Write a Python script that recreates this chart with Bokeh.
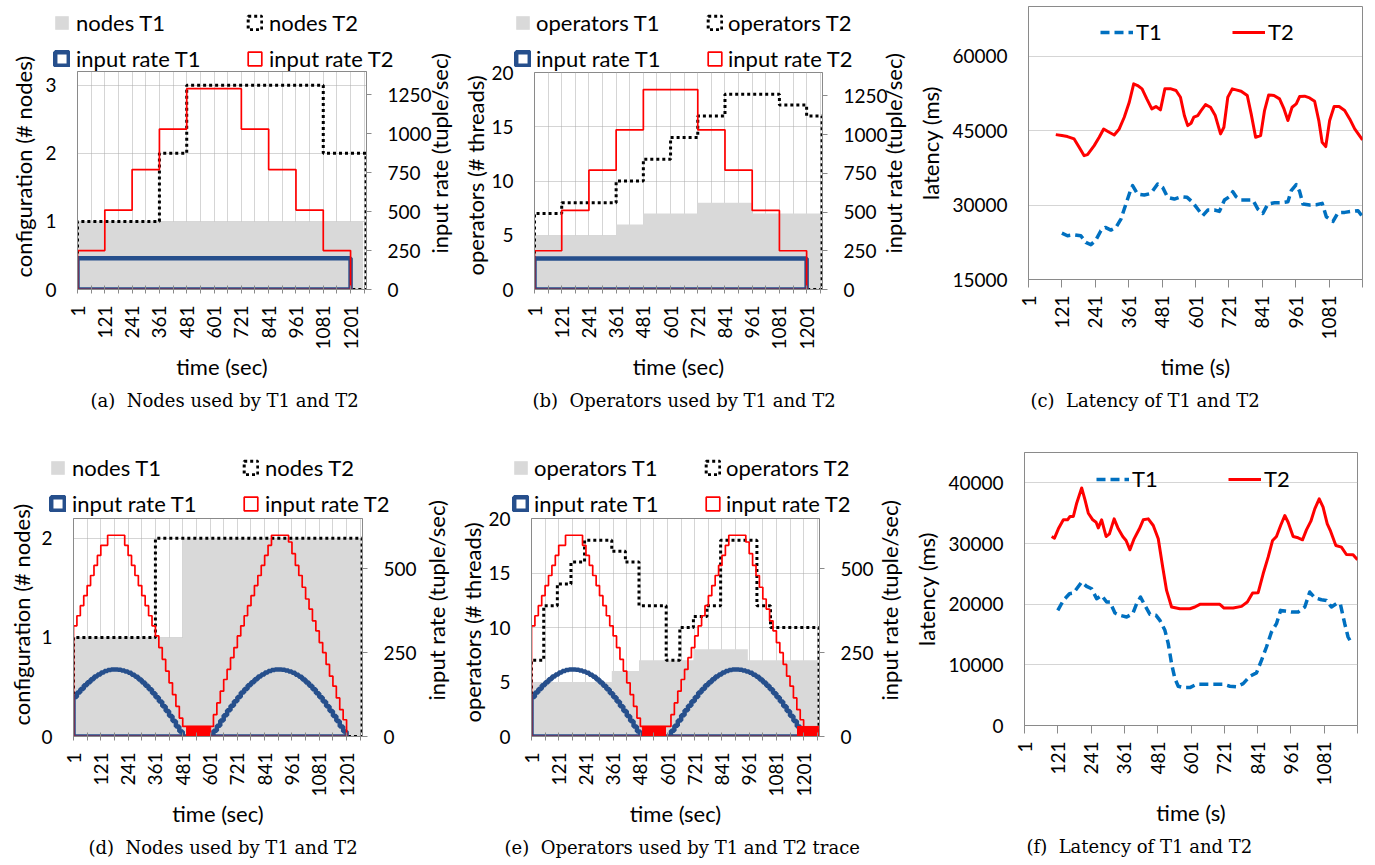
import math
from bokeh.plotting import figure
from bokeh.models import Range1d, LinearAxis, FixedTicker, Legend, LegendItem, Title
from bokeh.embed import file_html
from bokeh.resources import INLINE

# ---------------- data ----------------
X_END_CFG = 1271          # last category of the configuration charts (sec)
X_END_LAT = 1201          # last category of the latency charts (sec)

# step series: start time of each step, value of each step, time where the series ends
a_nodes_t1_start = [1]
a_nodes_t1_val = [1]
a_nodes_t1_end = 1256
a_nodes_t2_start = [1, 361, 481, 1081]
a_nodes_t2_val = [1, 2, 3, 2]
a_nodes_t2_end = 1269

rate_t1_start = [1]
rate_t1_val = [200]
rate_t1_end = 1201
rate_t2_start = [1, 121, 241, 361, 481, 721, 841, 961, 1081]
rate_t2_val = [250, 510, 770, 1030, 1290, 1030, 770, 510, 250]
rate_t2_end = 1201

b_ops_t1_start = [1, 361, 481, 721, 961]
b_ops_t1_val = [5, 6, 7, 8, 7]
b_ops_t1_end = 1266
b_ops_t2_start = [1, 121, 361, 481, 601, 721, 841, 1081, 1201]
b_ops_t2_val = [7, 8, 10, 12, 14, 16, 18, 17, 16]
b_ops_t2_end = 1269

d_nodes_t1_start = [1, 481]
d_nodes_t1_val = [1, 2]
d_nodes_t1_end = 1266
d_nodes_t2_start = [1, 361]
d_nodes_t2_val = [1, 2]
d_nodes_t2_end = 1269

e_ops_t1_start = [1, 355, 475, 715, 955]
e_ops_t1_val = [5, 6, 7, 8, 7]
e_ops_t1_end = 1266
e_ops_t2_start = [1, 55, 115, 175, 235, 355, 415, 475, 595, 655, 715, 775, 835, 995, 1055]
e_ops_t2_val = [7, 12, 14, 16, 18, 17, 16, 12, 7, 10, 11, 12, 18, 12, 10]
e_ops_t2_end = 1269

# wave input rates (every 15 s), read from (d)/(e)
wave_time = list(range(1, 1202, 15))
wave_rate_t1 = [118, 131, 142, 153, 162, 171, 179, 185, 191, 195, 198, 200, 200, 199, 197, 194,
                190, 184, 178, 170, 161, 151, 141, 129, 117, 104, 90, 76, 61, 46, 30, 15,
                0, 0, 0, 0, 0, 0, 0, 0, 0, 17, 32, 48, 63, 78, 92, 105,
                118, 131, 142, 153, 162, 171, 179, 185, 191, 195, 198, 200, 200, 199, 197, 194,
                190, 184, 178, 170, 161, 151, 141, 129, 117, 104, 90, 76, 61, 46, 30, 15, 0]
wave_rate_t2 = [330, 360, 390, 420, 450, 480, 510, 540, 570, 570, 600, 600, 600, 600, 600, 570,
                540, 510, 480, 450, 420, 390, 360, 330, 300, 265, 230, 195, 160, 125, 90, 55,
                30, 30, 30, 30, 30, 30, 30, 30, 30, 65, 100, 135, 170, 200, 235, 265,
                300, 330, 360, 390, 420, 450, 480, 510, 540, 570, 600, 600, 600, 600, 600, 580,
                545, 510, 480, 445, 410, 380, 345, 315, 280, 250, 215, 180, 150, 115, 80, 50, 0]
wave_end = 1201
d_burst_left = [498]
d_burst_right = [604]
d_burst_top = [30]
e_burst_left = [490, 1174]
e_burst_right = [592, 1268]
e_burst_top = [30, 30]

# (c) latency
c_t1_time = [121, 141, 165, 189, 207, 225, 243, 261, 277, 297, 315, 333, 351, 367, 375, 393, 417, 441, 465, 483,
             501, 525, 549, 571, 591, 609, 627, 645, 669, 687, 705, 723, 735, 747, 765, 789, 807, 825, 843, 861,
             885, 909, 933, 945, 963, 975, 987, 1011, 1035, 1056, 1071, 1095, 1113, 1137, 1161, 1185, 1201]
c_t1_lat = [24350, 23810, 24010, 23810, 22470, 22000, 22940, 24820, 25490, 24950, 25490, 27170, 30200, 32890,
            33900, 32220, 32020, 32350, 34240, 33560, 31550, 31210, 31680, 31550, 30540, 29190, 27850, 28990,
            28990, 28720, 31010, 31680, 32690, 31680, 31010, 31010, 31010, 29190, 28320, 30200, 30470, 30470,
            30670, 32890, 34100, 32760, 30200, 30000, 30070, 30340, 27650, 26700, 28450, 28520, 28720, 28860, 27650]
c_t2_time = [99, 121, 141, 165, 183, 201, 213, 237, 255, 271, 291, 309, 327, 345, 363, 379, 393, 409, 426, 444,
             459, 475, 491, 513, 531, 547, 561, 573, 585, 595, 609, 621, 637, 655, 672, 691, 703, 717, 733, 747,
             765, 787, 801, 817, 835, 849, 864, 883, 903, 919, 933, 948, 963, 975, 993, 1011, 1029, 1044, 1056,
             1069, 1083, 1099, 1117, 1137, 1155, 1173, 1201]
c_t2_lat = [44190, 43990, 43790, 43320, 41640, 39950, 40150, 41970, 43650, 45330, 44660, 44120, 45330, 47690,
            50710, 54410, 54080, 53410, 51390, 49370, 49840, 49170, 53410, 53410, 53070, 51720, 48030, 46000,
            46480, 47690, 48030, 49030, 50240, 49700, 48030, 44330, 45670, 51720, 53410, 53200, 52940, 52060,
            48360, 43650, 43990, 49030, 52190, 52060, 51390, 49370, 47020, 49700, 50380, 51860, 51930, 51590,
            50920, 47020, 42650, 41770, 47020, 49840, 49840, 49030, 47350, 45330, 43110]

# (f) latency
f_t1_time = [121, 141, 163, 177, 189, 207, 225, 243, 261, 279, 297, 309, 327, 345, 369, 391, 405, 419, 435, 453,
             475, 489, 507, 519, 531, 543, 555, 573, 597, 621, 645, 681, 717, 741, 765, 789, 813, 837, 855, 873,
             891, 909, 924, 939, 963, 987, 1011, 1029, 1047, 1071, 1089, 1107, 1125, 1139, 1155, 1167, 1179]
f_t1_lat = [18980, 20620, 21720, 21830, 22540, 23640, 22930, 22540, 20900, 21450, 20350, 20350, 18540, 18160,
            17880, 18430, 20080, 21170, 19800, 18320, 18160, 17330, 15690, 13490, 10200, 7730, 6470, 6250,
            6250, 6800, 6800, 6800, 6800, 6470, 6360, 6910, 8120, 8670, 10750, 12940, 15410, 16780, 18980,
            18870, 18700, 18700, 19530, 22000, 21060, 20730, 20620, 19530, 20080, 20080, 16780, 14590, 13600]
f_t2_time = [99, 109, 123, 141, 156, 165, 177, 189, 207, 219, 231, 247, 259, 267, 279, 295, 307, 324, 339, 355,
             367, 381, 396, 415, 429, 447, 465, 483, 499, 513, 531, 561, 597, 615, 633, 669, 705, 720, 753, 783,
             804, 823, 843, 861, 879, 895, 909, 924, 939, 951, 969, 987, 1003, 1017, 1033, 1047, 1063, 1077,
             1092, 1104, 1123, 1143, 1161, 1185, 1201]
f_t2_lat = [31160, 30880, 32420, 33900, 33900, 34450, 34450, 36640, 39160, 37190, 34990, 33900, 33510, 32580,
            33900, 31160, 31590, 34060, 32420, 31160, 30500, 28960, 30770, 32420, 33900, 34060, 32970, 30770,
            26110, 22270, 19530, 19250, 19250, 19530, 19970, 19970, 19970, 19360, 19360, 19640, 20350, 21830,
            21890, 25010, 27750, 30500, 31160, 32970, 34610, 33510, 31160, 30940, 30610, 32250, 33680, 35710,
            37350, 35980, 33240, 32030, 29670, 29400, 28190, 28140, 27320]

time_ticks = list(range(1, 1202, 120))
time_minor = list(range(61, 1262, 120))

# ---------------- styling ----------------
FONT = "Lato"
SERIF = "DejaVu Serif"
GRID = "#ABABAB"
FRAME = "#8A8A8A"
GRAY = "#D9D9D9"
BLUE = "#264F8C"
RED = "#FF0000"
LBLUE = "#0070C0"
TICK_FS = "19px"
TITLE_FS = "22px"
CAP_FS = "18px"
RATE_TITLE = "input rate (tuple/sec)"

STYLE_GRAY = dict(fill_color=GRAY, line_color=None)
STYLE_DOT = dict(fill_color=None, line_color="black", line_width=3, line_dash="3 3")
STYLE_BLUE = dict(fill_color=None, line_color=BLUE, line_width=4.5)
STYLE_RED = dict(fill_color=None, line_color=RED, line_width=1.7)


def step_outline(starts, vals, end):
    xs, ys = [starts[0]], [0]
    for i, v in enumerate(vals):
        x1 = starts[i + 1] if i + 1 < len(starts) else end
        xs += [starts[i], x1]
        ys += [v, v]
    xs.append(end)
    ys.append(0)
    return xs, ys


def style_axis(ax):
    ax.axis_line_color = FRAME
    ax.major_tick_line_color = FRAME
    ax.minor_tick_line_color = FRAME
    ax.major_label_text_font = FONT
    ax.major_label_text_font_size = TICK_FS
    ax.major_label_text_color = "black"
    ax.axis_label_text_font = FONT
    ax.axis_label_text_font_size = TITLE_FS
    ax.axis_label_text_font_style = "normal"
    ax.axis_label_text_color = "black"


def add_title(p, text, side, offset, standoff, font, size):
    t = Title(text=text, align="left", offset=offset, text_font=font, text_font_size=size,
              text_font_style="normal", text_color="black")
    try:
        t.standoff = standoff
    except Exception:
        pass
    p.add_layout(t, side)


def place(p, x0, y0):
    p.styles = {"position": "absolute", "left": "%dpx" % x0, "top": "%dpx" % y0}


def base(x0, y0, bl, bt, fw, fh, xr, yr, br=4):
    p = figure(frame_width=fw, frame_height=fh, title=None, output_backend="svg", toolbar_location=None,
               x_range=xr, y_range=yr, min_border_left=bl, min_border_top=bt,
               min_border_right=br, min_border_bottom=4)
    p.outline_line_color = FRAME
    p.outline_line_width = 1
    p.background_fill_color = "white"
    p.border_fill_color = None
    place(p, x0, y0)
    return p


def config_panel(x0, y0, bl, bt, fw, fh, ymax, yticks, ylabel, ylab_off, ylab_standoff, rmax, rticks,
                 area1, area2, rate1, rate2, bursts, caption, cap_off, cap_standoff):
    p = base(x0, y0, bl, bt, fw, fh, Range1d(1, X_END_CFG), Range1d(0, ymax), br=90)
    p.extra_y_ranges = {"rate": Range1d(0, rmax)}

    xs, ys = step_outline(*area1)
    p.patch(xs, ys, **STYLE_GRAY)
    xs, ys = step_outline(*area2)
    p.patch(xs, ys, **STYLE_DOT)
    xs, ys = step_outline(*rate1)
    p.patch(xs, ys, y_range_name="rate", **STYLE_BLUE)
    if bursts is not None:
        p.quad(left=bursts[0], right=bursts[1], bottom=[0] * len(bursts[0]), top=bursts[2],
               fill_color=RED, line_color=RED, y_range_name="rate")
    xs, ys = step_outline(*rate2)
    p.patch(xs, ys, y_range_name="rate", **STYLE_RED)

    xa = p.xaxis[0]
    style_axis(xa)
    xa.ticker = FixedTicker(ticks=time_ticks, minor_ticks=time_minor)
    xa.major_label_orientation = math.pi / 2
    xa.major_tick_in = 4
    xa.major_tick_out = 4
    xa.minor_tick_in = 4
    xa.minor_tick_out = 4
    xa.major_label_standoff = 12
    xa.axis_label = "time (sec)"
    xa.axis_label_standoff = 0

    ya = p.yaxis[0]
    style_axis(ya)
    ya.ticker = FixedTicker(ticks=yticks)
    ya.major_tick_in = 0
    ya.major_tick_out = 0
    ya.minor_tick_out = 0
    ya.minor_tick_in = 0
    ya.major_label_standoff = 21
    # left title placed like the original (not centred on the plot box)
    add_title(p, ylabel, "left", ylab_off, ylab_standoff, FONT, TITLE_FS)

    ra = LinearAxis(y_range_name="rate", ticker=FixedTicker(ticks=rticks))
    style_axis(ra)
    ra.major_tick_in = 0
    ra.major_tick_out = 5
    ra.minor_tick_in = 0
    ra.minor_tick_out = 0
    ra.major_label_standoff = 16
    p.add_layout(ra, "right")

    p.xgrid.grid_line_color = GRID
    p.xgrid.grid_line_dash = "1 1"
    p.xgrid.minor_grid_line_color = GRID
    p.xgrid.minor_grid_line_dash = "1 1"
    p.ygrid.grid_line_color = GRID
    p.ygrid.grid_line_dash = "1 1"

    add_title(p, caption, "below", cap_off, cap_standoff, SERIF, CAP_FS)
    return p


def legend_overlay(x0, y0, fw, fh, names, leg_x, leg_y, leg_standoff):
    # a transparent strip above a chart that only carries its two-row legend
    q = figure(frame_width=fw, frame_height=fh, title=None, output_backend="svg", toolbar_location=None,
               x_range=Range1d(0, 1), y_range=Range1d(0, 1), x_axis_type=None, y_axis_type=None,
               min_border_left=0, min_border_right=0, min_border_top=0, min_border_bottom=0)
    q.outline_line_color = None
    q.background_fill_color = None
    q.border_fill_color = None
    q.grid.visible = False
    place(q, x0, y0)
    off_x, off_y = [-3, -2, -2], [-3, -3, -2]     # outside the strip: only the legend swatches show
    r1 = q.patch(off_x, off_y, **STYLE_GRAY)
    r2 = q.patch(off_x, off_y, **STYLE_DOT)
    r3 = q.patch(off_x, off_y, **STYLE_BLUE)
    r4 = q.patch(off_x, off_y, **STYLE_RED)
    lg = Legend(items=[LegendItem(label=names[0], renderers=[r1]),
                       LegendItem(label=names[1], renderers=[r2]),
                       LegendItem(label=names[2], renderers=[r3]),
                       LegendItem(label=names[3], renderers=[r4])],
                orientation="horizontal", ncols=2, location=(leg_x, leg_y),
                glyph_width=17, glyph_height=17, label_standoff=leg_standoff,
                label_width=161, label_height=25, spacing=9, padding=0, margin=0,
                background_fill_alpha=0, border_line_alpha=0,
                label_text_font=FONT, label_text_font_size=TITLE_FS, label_text_color="black")
    q.add_layout(lg, "center")
    return q


def latency_panel(x0, y0, bl, bt, fw, fh, ymin, ymax, yticks, t1, t2, leg_x, leg_y, caption, cap_off,
                  cap_standoff, ytitle_standoff):
    p = base(x0, y0, bl, bt, fw, fh, Range1d(1, X_END_LAT), Range1d(ymin, ymax))
    r1 = p.line(t1[0], t1[1], line_color=LBLUE, line_width=3.5, line_dash="9 5", line_join="round")
    r2 = p.line(t2[0], t2[1], line_color=RED, line_width=3, line_join="round")

    xa = p.xaxis[0]
    style_axis(xa)
    xa.ticker = FixedTicker(ticks=time_ticks)
    xa.major_label_overrides = {1201: ""}
    xa.major_label_orientation = math.pi / 2
    xa.major_tick_in = 0
    xa.major_tick_out = 8
    xa.minor_tick_in = 0
    xa.minor_tick_out = 0
    xa.major_label_standoff = 8
    xa.axis_label = "time (s)"
    xa.axis_label_standoff = 10

    ya = p.yaxis[0]
    style_axis(ya)
    ya.ticker = FixedTicker(ticks=yticks)
    ya.major_tick_in = 0
    ya.major_tick_out = 0
    ya.minor_tick_in = 0
    ya.minor_tick_out = 0
    ya.major_label_standoff = 21
    ya.axis_label = "latency (ms)"
    ya.axis_label_standoff = ytitle_standoff

    p.xgrid.grid_line_color = None
    p.ygrid.grid_line_color = GRID
    p.ygrid.grid_line_dash = "1 1"

    lg = Legend(items=[LegendItem(label="T1", renderers=[r1]), LegendItem(label="T2", renderers=[r2])],
                orientation="horizontal", location=(leg_x, leg_y),
                glyph_width=33, glyph_height=20, label_standoff=3, label_width=96, label_height=25,
                spacing=0, padding=0, margin=0, background_fill_alpha=0, border_line_alpha=0,
                label_text_font=FONT, label_text_font_size=TITLE_FS, label_text_color="black")
    p.add_layout(lg, "center")
    add_title(p, caption, "below", cap_off, cap_standoff, SERIF, CAP_FS)
    return p


NB = "\u00a0"
pa = config_panel(-10, 0, 87, 71, 289, 218, 3.2, [0, 1, 2, 3], "configuration (# nodes)", 12, 11, 1400,
                  [0, 250, 500, 750, 1000, 1250],
                  (a_nodes_t1_start, a_nodes_t1_val, a_nodes_t1_end),
                  (a_nodes_t2_start, a_nodes_t2_val, a_nodes_t2_end),
                  (rate_t1_start, rate_t1_val, rate_t1_end),
                  (rate_t2_start, rate_t2_val, rate_t2_end), None,
                  "(a)" + NB + " Nodes used by T1 and T2", 13, 10)
pb = config_panel(400, 0, 134, 72, 288, 217, 20, [0, 5, 10, 15, 20], "operators (# threads)", 14, 0, 1400,
                  [0, 250, 500, 750, 1000, 1250],
                  (b_ops_t1_start, b_ops_t1_val, b_ops_t1_end),
                  (b_ops_t2_start, b_ops_t2_val, b_ops_t2_end),
                  (rate_t1_start, rate_t1_val, rate_t1_end),
                  (rate_t2_start, rate_t2_val, rate_t2_end), None,
                  "(b)" + NB + " Operators used by T1 and T2", -2, 10)
pc = latency_panel(860, 0, 168, 6, 334, 273, 15000, 70000, [15000, 30000, 45000, 60000],
                   (c_t1_time, c_t1_lat), (c_t2_time, c_t2_lat), 72, 234,
                   "(c)" + NB + " Latency of T1 and T2", 2, 10, 5)

pd_ = config_panel(-10, 430, 83, 88, 289, 218, 2.2, [0, 1, 2], "configuration (# nodes)", 11, 7, 650,
                   [0, 250, 500],
                   (d_nodes_t1_start, d_nodes_t1_val, d_nodes_t1_end),
                   (d_nodes_t2_start, d_nodes_t2_val, d_nodes_t2_end),
                   (wave_time, wave_rate_t1, wave_end),
                   (wave_time, wave_rate_t2, wave_end),
                   (d_burst_left, d_burst_right, d_burst_top),
                   "(d)" + NB + " Nodes used by T1 and T2", 15, 11)
pe = config_panel(400, 430, 131, 88, 288, 218, 20, [0, 5, 10, 15, 20], "operators (# threads)", 14, 0, 650,
                  [0, 250, 500],
                  (e_ops_t1_start, e_ops_t1_val, e_ops_t1_end),
                  (e_ops_t2_start, e_ops_t2_val, e_ops_t2_end),
                  (wave_time, wave_rate_t1, wave_end),
                  (wave_time, wave_rate_t2, wave_end),
                  (e_burst_left, e_burst_right, e_burst_top),
                  "(e)" + NB + " Operators used by T1 and T2 trace", -27, 11)
pf = latency_panel(860, 430, 164, 22, 333, 273, 0, 45000, [0, 10000, 20000, 30000, 40000],
                   (f_t1_time, f_t1_lat), (f_t2_time, f_t2_lat), 72, 233,
                   "(f)" + NB + " Latency of T1 and T2", 2, 10, 5)

# right-hand "input rate" titles, drawn in the margin shared with the next chart
add_title(pb, RATE_TITLE, "left", 36, 13, FONT, TITLE_FS)
add_title(pc, RATE_TITLE, "left", 26, 15, FONT, TITLE_FS)
add_title(pe, RATE_TITLE, "left", 36, 14, FONT, TITLE_FS)
add_title(pf, RATE_TITLE, "left", 25, 16, FONT, TITLE_FS)

names_nodes = ["nodes T1", "nodes T2", "input rate T1", "input rate T2"]
names_ops = ["operators T1", "operators T2", "input rate T1", "input rate T2"]
la = legend_overlay(40, 0, 410, 72, names_nodes, 13, 0, 6)
lb = legend_overlay(495, 0, 410, 72, names_ops, 19, 0, 5)
ld = legend_overlay(40, 430, 410, 88, names_nodes, 9, 1, 6)
le = legend_overlay(495, 430, 410, 88, names_ops, 17, 1, 5)

open("out.html", "w").write(file_html([pa, pb, pc, pd_, pe, pf, la, lb, ld, le], INLINE))
